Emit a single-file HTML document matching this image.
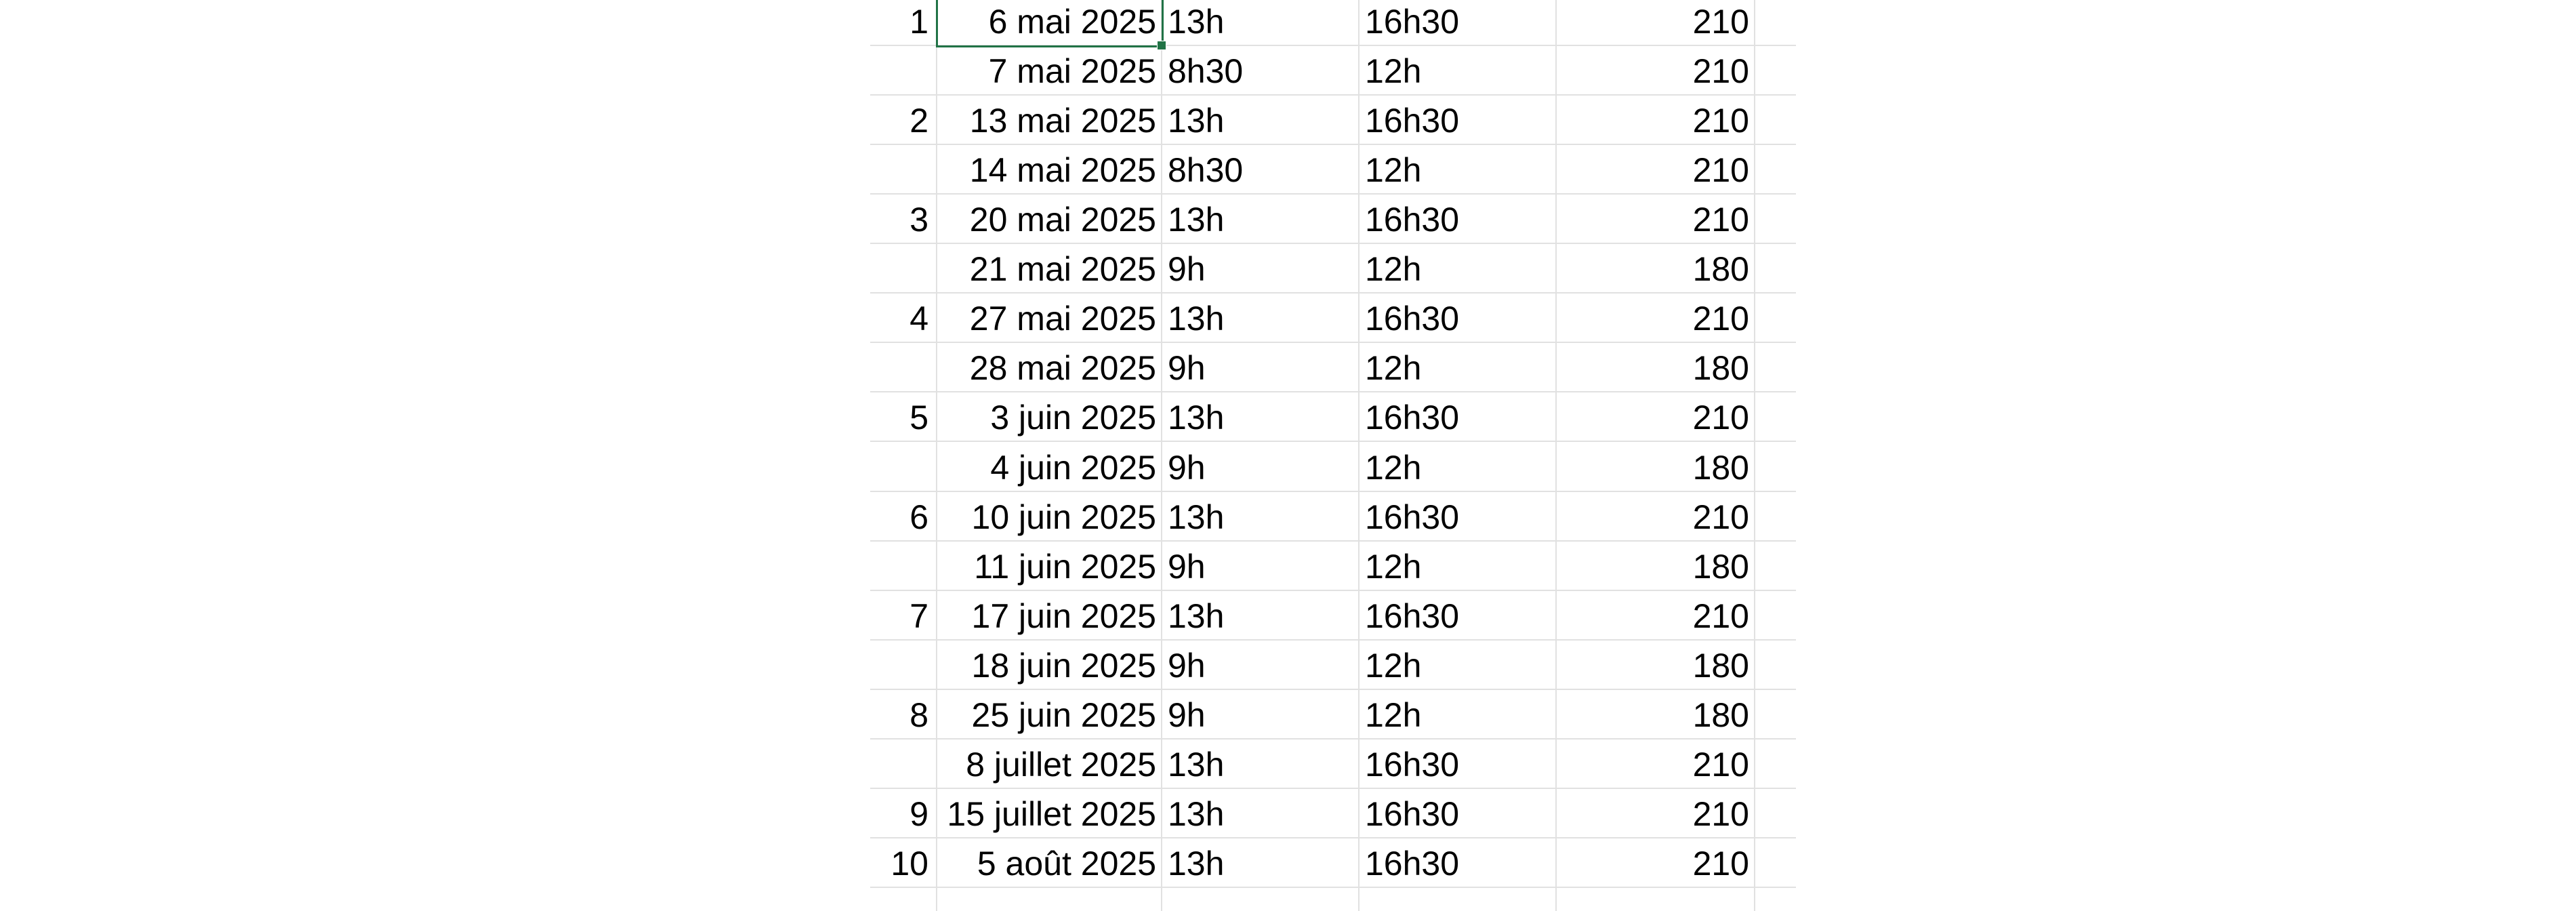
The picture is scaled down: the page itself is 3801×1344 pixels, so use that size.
<!DOCTYPE html>
<html><head><meta charset="utf-8"><style>
body{margin:0;width:3801px;height:1344px;background:#fff;overflow:hidden;position:relative;font-family:"Liberation Sans",sans-serif;}
.h{position:absolute;left:1284px;width:1366px;height:2px;background:#e1e1e1;}
.v{position:absolute;top:0;height:1344px;width:2px;background:#e1e1e1;}
.t{position:absolute;font-size:50px;line-height:50px;color:#000;white-space:nowrap;}
</style></head><body>
<div id="grid"></div>
<div style="position:absolute;left:1381px;top:-3px;width:330px;height:67px;border:3px solid #217346;"></div>
<div style="position:absolute;left:1707px;top:60px;width:12px;height:12px;background:#217346;border:1px solid #fff;"></div>
<script>
const nums=["1","","2","","3","","4","","5","","6","","7","","8","","9","10"];
const dates=["6 mai 2025","7 mai 2025","13 mai 2025","14 mai 2025","20 mai 2025","21 mai 2025","27 mai 2025","28 mai 2025","3 juin 2025","4 juin 2025","10 juin 2025","11 juin 2025","17 juin 2025","18 juin 2025","25 juin 2025","8 juillet 2025","15 juillet 2025","5 août 2025"];
const starts=["13h","8h30","13h","8h30","13h","9h","13h","9h","13h","9h","13h","9h","13h","9h","9h","13h","13h","13h"];
const ends=["16h30","12h","16h30","12h","16h30","12h","16h30","12h","16h30","12h","16h30","12h","16h30","12h","12h","16h30","16h30","16h30"];
const mins=["210","210","210","210","210","180","210","180","210","180","210","180","210","180","180","210","210","210"];
const g=document.getElementById('grid');
[1382,1714,2005,2296,2589].forEach(x=>{const d=document.createElement('div');d.className='v';d.style.left=(x-1)+'px';


g.appendChild(d);});
for(let i=0;i<18;i++){
 const rb=67+i*73.06;
 const l=document.createElement('div');l.className='h';l.style.top=(rb-1)+'px';
 
 
 g.appendChild(l);
 const bottom=(1344-rb+10)+'px';
 const cells=[[nums[i],'r',1370,'row-number'],[dates[i],'r',1706,'date-cell'],[starts[i],'l',1723,'start-time-cell'],[ends[i],'l',2014,'end-time-cell'],[mins[i],'r',2581,'minutes-cell']];
 cells.forEach(c=>{if(!c[0])return;const t=document.createElement('div');t.className='t';t.textContent=c[0];t.style.bottom=bottom;
  if(c[1]=='r'){t.style.right=(3801-c[2])+'px';}else{t.style.left=c[2]+'px';}
  
  
  g.appendChild(t);});
}
</script>
</body></html>
